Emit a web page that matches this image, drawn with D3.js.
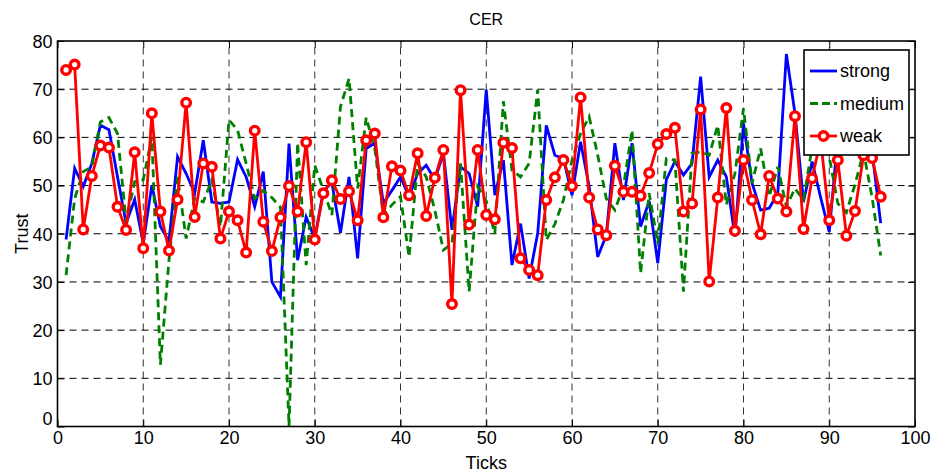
<!DOCTYPE html>
<html>
<head>
<meta charset="utf-8">
<script src="https://cdn.jsdelivr.net/npm/d3@7"></script>
<style>
    body { margin: 0; background: #fff; }
    svg text { font-family: "Liberation Sans", Arial, sans-serif; fill: #000; }
</style>
</head>
<body>
<div id="chart"></div>
<script>

// ticks 1..96
var ticks = d3.range(1, 97)

var strong = [38.8, 53.6, 49.8, 54.6, 62.5, 61.6, 51.8, 42.2, 47.1, 38.0,
    50.1, 41.5, 38.4, 56.0, 52.5, 48.4, 59.4, 46.6, 46.3, 46.6,
    55.4, 51.8, 45.6, 52.9, 30.0, 26.9, 58.7, 34.5, 43.5, 39.0,
    48.9, 50.6, 40.2, 51.8, 34.9, 57.7, 58.8, 46.3, 49.0, 51.8,
    47.7, 52.5, 54.2, 51.2, 56.7, 40.8, 53.9, 52.5, 45.6, 69.9,
    48.0, 55.3, 33.5, 42.1, 30.7, 40.1, 62.5, 56.3, 55.6, 48.0,
    59.1, 49.8, 35.2, 39.7, 58.8, 47.0, 58.8, 41.5, 46.8, 33.9,
    51.2, 55.0, 52.2, 54.6, 72.6, 51.8, 55.3, 51.8, 39.4, 62.9,
    50.5, 44.9, 45.3, 48.4, 77.3, 65.0, 46.6, 55.0, 47.5, 40.4,
    60.0, 62.0, 58.0, 63.0, 57.0, 42.2]

var medium = [31.4, 47.3, 52.9, 53.9, 63.2, 64.1, 60.8, 42.5, 50.8, 51.2,
    60.1, 12.8, 34.5, 51.8, 39.0, 47.3, 46.6, 51.2, 41.5, 63.6,
    61.5, 54.6, 47.3, 49.0, 47.5, 45.5, 0.0, 58.9, 33.5, 54.2,
    49.1, 43.9, 66.4, 72.2, 49.4, 64.1, 57.7, 43.9, 46.0, 47.7,
    35.2, 54.6, 51.8, 44.9, 36.6, 38.0, 54.6, 28.0, 49.8, 46.8,
    40.0, 67.5, 53.2, 51.8, 54.6, 69.9, 38.7, 42.0, 47.0, 55.3,
    60.8, 64.3, 56.3, 47.3, 44.9, 49.8, 61.5, 31.8, 48.4, 38.0,
    55.6, 55.3, 28.0, 56.7, 57.0, 56.3, 62.5, 46.0, 52.5, 66.0,
    50.5, 57.7, 47.7, 53.9, 45.6, 49.4, 47.0, 58.0, 60.0, 56.0,
    46.3, 44.4, 50.2, 57.0, 47.5, 35.5]

var weak = [74.0, 75.1, 40.9, 52.0, 58.3, 57.9, 45.6, 40.8, 56.9, 37.0,
    65.0, 44.6, 36.5, 47.1, 67.2, 43.5, 54.6, 53.9, 39.0, 44.6,
    42.8, 36.1, 61.4, 42.5, 36.4, 43.4, 49.9, 44.6, 59.0, 38.8,
    48.4, 51.1, 47.2, 48.8, 42.8, 59.4, 60.8, 43.4, 54.0, 53.1,
    48.0, 56.7, 43.7, 51.6, 57.4, 25.4, 69.8, 41.9, 57.4, 43.9,
    43.0, 58.9, 57.8, 34.9, 32.5, 31.4, 47.0, 51.7, 55.3, 49.9,
    68.3, 47.5, 40.9, 39.7, 54.1, 48.7, 48.7, 47.9, 52.6, 58.6,
    60.7, 62.0, 44.6, 46.3, 65.8, 30.1, 47.5, 66.1, 40.6, 55.3,
    47.0, 39.9, 52.0, 47.3, 44.6, 64.4, 41.0, 51.5, 59.5, 42.8,
    55.3, 39.6, 44.7, 56.3, 55.7, 47.7]

var xTicks = d3.range(0, 101, 10)
var yTicks = d3.range(0, 81, 10)
var seriesNames = ["strong", "medium", "weak"]

var width = 937, height = 473

var svg = d3.select("#chart").append("svg")
    .attr("width", width)
    .attr("height", height)

var x = d3.scaleLinear().domain([0, 100]).range([57.5, 915])
var y = d3.scaleLinear().domain([0, 80]).range([426.5, 41])

//dashed grid, black like matlab
var grid = svg.append("g").attr("class", "grid")

grid.selectAll(".vgrid")
    .data(xTicks.slice(1, -1))
    .enter().append("line")
    .attr("x1", function(d) { return x(d) })
    .attr("x2", function(d) { return x(d) })
    .attr("y1", y(0))
    .attr("y2", y(80))
    .attr("stroke", "#333")
    .attr("stroke-width", 1)
    .attr("stroke-dasharray", "7,5")

grid.selectAll(".hgrid")
    .data(yTicks.slice(1, -1))
    .enter().append("line")
    .attr("x1", x(0))
    .attr("x2", x(100))
    .attr("y1", function(d) { return y(d) })
    .attr("y2", function(d) { return y(d) })
    .attr("stroke", "#000")
    .attr("stroke-width", 1)
    .attr("stroke-dasharray", "7,5")

// lines
var line = d3.line()
    .x(function(d, i) { return x(ticks[i]) })
    .y(function(d) { return y(d) })

var plot = svg.append("g")

plot.append("path")
    .datum(strong)
    .attr("d", line)
    .attr("fill", "none")
    .attr("stroke", "#0000ff")
    .attr("stroke-width", 2.8)

plot.append("path")
    .datum(medium)
    .attr("d", line)
    .attr("fill", "none")
    .attr("stroke", "#008000")
    .attr("stroke-width", 2.8)
    .attr("stroke-dasharray", "8,5")

plot.append("path")
    .datum(weak)
    .attr("d", line)
    .attr("fill", "none")
    .attr("stroke", "#ff0000")
    .attr("stroke-width", 2.8)

// thick red rings with a small white hole
plot.selectAll(".weak_marker")
    .data(weak)
    .enter().append("circle")
    .attr("class", "weak_marker")
    .attr("cx", function(d, i) { return x(ticks[i]) })
    .attr("cy", function(d) { return y(d) })
    .attr("r", 4.3)
    .attr("fill", "#fff")
    .attr("stroke", "#ff0000")
    .attr("stroke-width", 3.4)

// axes, ticks point inwards on all four sides
var tickLen = 7

var xAxis = d3.axisBottom(x).tickValues(xTicks).tickSizeInner(-tickLen).tickSizeOuter(0).tickPadding(4)
var yAxis = d3.axisLeft(y).tickValues(yTicks).tickSizeInner(-tickLen).tickSizeOuter(0).tickPadding(5)

var gx = svg.append("g")
    .attr("transform", "translate(0," + y(0) + ")")
    .call(xAxis)

var gy = svg.append("g")
    .attr("transform", "translate(" + x(0) + ",0)")
    .call(yAxis)

svg.append("g")
    .attr("transform", "translate(0," + y(80) + ")")
    .call(d3.axisTop(x).tickValues(xTicks).tickSizeInner(-tickLen).tickSizeOuter(0).tickFormat(""))

svg.append("g")
    .attr("transform", "translate(" + x(100) + ",0)")
    .call(d3.axisRight(y).tickValues(yTicks).tickSizeInner(-tickLen).tickSizeOuter(0).tickFormat(""))

svg.selectAll(".domain").remove()
svg.selectAll(".tick line").attr("stroke", "#000").attr("stroke-width", 1)

gx.selectAll("text")
    .style("font-size", "18px")
    .attr("dy", "0.75em")

gy.selectAll("text")
    .style("font-size", "18px")
    .attr("dy", function(d) { return d == 0 ? "-0.1em" : "0.35em" })

// box
svg.append("rect")
    .attr("x", x(0))
    .attr("y", y(80))
    .attr("width", x(100) - x(0))
    .attr("height", y(0) - y(80))
    .attr("fill", "none")
    .attr("stroke", "#000")
    .attr("stroke-width", 1.6)

// titles
svg.append("text")
    .attr("x", (x(0) + x(100)) / 2)
    .attr("y", 25)
    .attr("text-anchor", "middle")
    .style("font-size", "16px")
    .text("CER")

svg.append("text")
    .attr("x", (x(0) + x(100)) / 2)
    .attr("y", 469)
    .attr("text-anchor", "middle")
    .style("font-size", "18px")
    .text("Ticks")

svg.append("text")
    .attr("transform", "translate(28," + ((y(0) + y(80)) / 2) + ") rotate(-90)")
    .attr("text-anchor", "middle")
    .style("font-size", "18px")
    .text("Trust")

// legend
var legend = svg.append("g").attr("transform", "translate(804,50)")

legend.append("rect")
    .attr("width", 105)
    .attr("height", 105)
    .attr("fill", "#fff")
    .attr("stroke", "#000")
    .attr("stroke-width", 1.6)

var legendStyles = [
    { stroke: "#0000ff", dash: null, marker: false },
    { stroke: "#008000", dash: "8,4", marker: false },
    { stroke: "#ff0000", dash: null, marker: true }
]

var items = legend.selectAll(".legend_item")
    .data(seriesNames)
    .enter().append("g")
    .attr("class", "legend_item")
    .attr("transform", function(d, i) { return "translate(0," + (21 + i * 32.5) + ")" })

items.append("line")
    .attr("x1", 6)
    .attr("x2", 33)
    .attr("stroke", function(d, i) { return legendStyles[i].stroke })
    .attr("stroke-width", 2.8)
    .attr("stroke-dasharray", function(d, i) { return legendStyles[i].dash })

items.filter(function(d, i) { return legendStyles[i].marker })
    .append("circle")
    .attr("cx", 19.5)
    .attr("r", 4.3)
    .attr("fill", "#fff")
    .attr("stroke", "#ff0000")
    .attr("stroke-width", 3.4)

items.append("text")
    .attr("x", 36)
    .attr("dy", "0.35em")
    .style("font-size", "18px")
    .text(function(d) { return d })

</script>
</body>
</html>
